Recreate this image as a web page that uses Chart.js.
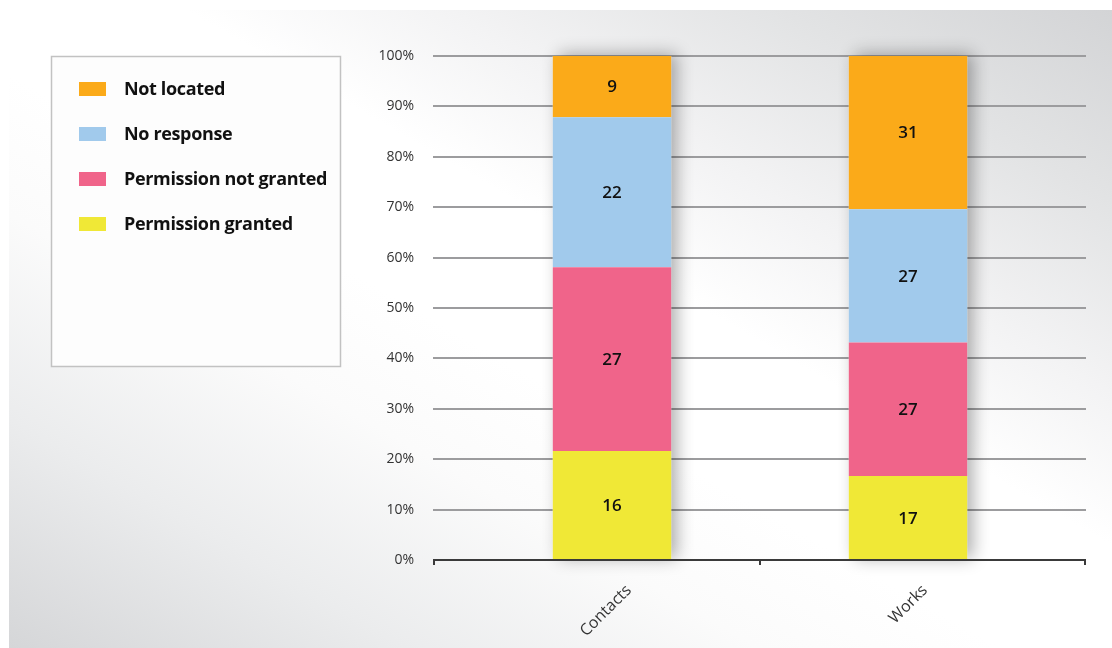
<!DOCTYPE html>
<html>
<head>
<meta charset="utf-8">
<script src="https://cdn.jsdelivr.net/npm/chart.js@4.4.1/dist/chart.umd.min.js"></script>
<style>
  html, body { margin: 0; padding: 0; background: #ffffff; }
  #wrap { position: relative; width: 1112px; height: 648px; overflow: hidden; background: #ffffff; }
  #bg { position: absolute; left: 9px; top: 10px; right: 0; bottom: 0;
        background: linear-gradient(to top right, #d5d6d8 0%, #ebeced 18%, #fbfbfb 34%, #ffffff 45%, #ffffff 58%, #f3f3f4 70%, #e2e3e4 85%, #d3d4d6 100%); }
  canvas { position: absolute; left: 0; top: 0; }
</style>
</head>
<body>
<div id="wrap">
  <div id="bg"></div>
  <canvas id="c" width="1112" height="648"></canvas>
</div>
<script>
// ---- Data (counts) ----
const categories = ['Contacts', 'Works'];
const permissionGranted = [16, 17];
const permissionNotGranted = [27, 27];
const noResponse = [22, 27];
const notLocated = [9, 31];
const seriesNames = ['Permission granted', 'Permission not granted', 'No response', 'Not located'];
const seriesColors = ['#F0E836', '#F0648A', '#A1CAEC', '#FBAA19'];
const yTickValues = [0, 10, 20, 30, 40, 50, 60, 70, 80, 90, 100];

const allSeries = [permissionGranted, permissionNotGranted, noResponse, notLocated];
const totals = categories.map((_, i) => allSeries.reduce((s, a) => s + a[i], 0));
const toPct = arr => arr.map((v, i) => v / totals[i] * 100);

const FONT = "'Open Sans', 'DejaVu Sans', sans-serif";

const datasets = allSeries.map((arr, k) => ({
  label: seriesNames[k],
  data: toPct(arr),
  counts: arr,
  backgroundColor: seriesColors[k],
  borderWidth: 0,
  barPercentage: 0.4,
  categoryPercentage: 1.0
}));

const decorPlugin = {
  id: 'decor',
  beforeDatasetsDraw(chart) {
    const ctx = chart.ctx;
    const ca = chart.chartArea;
    const y = chart.scales.y;
    const gl = ca.left - 31, gr = ca.right + 30;
    ctx.save();
    // grid lines
    ctx.strokeStyle = '#9c9c9e';
    ctx.lineWidth = 2;
    yTickValues.forEach(v => {
      if (v === 0) return;
      const py = Math.round(y.getPixelForValue(v));
      ctx.beginPath();
      ctx.moveTo(gl, py);
      ctx.lineTo(gr, py);
      ctx.stroke();
    });
    // stack shadows
    const first = chart.getDatasetMeta(0), last = chart.getDatasetMeta(chart.data.datasets.length - 1);
    categories.forEach((_, i) => {
      const b = first.data[i], t = last.data[i];
      const w = b.width;
      ctx.save();
      ctx.shadowColor = 'rgba(0,0,0,0.32)';
      ctx.shadowBlur = 16;
      ctx.shadowOffsetX = 6;
      ctx.shadowOffsetY = -2;
      ctx.fillStyle = '#ffffff';
      ctx.fillRect(b.x - w / 2, t.y, w, b.base - t.y);
      ctx.restore();
    });
    ctx.restore();
  },
  afterDatasetsDraw(chart) {
    const ctx = chart.ctx;
    const ca = chart.chartArea;
    const y = chart.scales.y;
    ctx.save();
    // x axis line with tick marks
    const gl = ca.left - 31, gr = ca.right + 30;
    const py = Math.round(y.getPixelForValue(0));
    ctx.strokeStyle = '#3a3a3a';
    ctx.lineWidth = 2;
    ctx.beginPath();
    ctx.moveTo(gl, py);
    ctx.lineTo(gr, py);
    ctx.stroke();
    const mid = (ca.left + ca.right) / 2;
    [gl + 1, mid, gr - 1].forEach(tx => {
      ctx.beginPath();
      ctx.moveTo(tx, py);
      ctx.lineTo(tx, py + 5);
      ctx.stroke();
    });
    // value labels
    ctx.fillStyle = '#111111';
    ctx.font = '600 17px ' + FONT;
    ctx.textAlign = 'center';
    ctx.textBaseline = 'middle';
    chart.data.datasets.forEach((ds, k) => {
      chart.getDatasetMeta(k).data.forEach((el, i) => {
        ctx.fillText(String(ds.counts[i]), el.x, (el.y + el.base) / 2 + 1);
      });
    });
    ctx.restore();
  },
  beforeDraw(chart) {
    // legend box
    const ctx = chart.ctx;
    ctx.save();
    ctx.fillStyle = '#fdfdfd';
    ctx.fillRect(51, 56, 290, 311);
    ctx.strokeStyle = '#c2c2c2';
    ctx.lineWidth = 1.5;
    ctx.strokeRect(51.5, 56.5, 289, 310);
    const items = chart.data.datasets.slice().reverse();
    ctx.font = 'bold 18px ' + FONT;
    try { ctx.letterSpacing = '-0.35px'; } catch (e) {}
    ctx.textAlign = 'left';
    ctx.textBaseline = 'middle';
    items.forEach((ds, j) => {
      const cy = 89 + j * 45;
      ctx.fillStyle = ds.backgroundColor;
      ctx.fillRect(79, cy - 7, 27, 14);
      ctx.fillStyle = '#111111';
      ctx.fillText(ds.label, 124, cy + 1);
    });
    ctx.restore();
  }
};

new Chart(document.getElementById('c'), {
  type: 'bar',
  data: { labels: categories, datasets },
  options: {
    responsive: false,
    animation: false,
    events: [],
    layout: { autoPadding: false, padding: { left: 0, right: 56, top: 56, bottom: 0 } },
    plugins: { legend: { display: false }, tooltip: { enabled: false } },
    scales: {
      x: {
        stacked: true,
        grid: { display: false, drawTicks: false },
        border: { display: false },
        afterFit(scale) {
          scale.height = 88; scale.paddingTop = 0; scale.paddingBottom = 0; scale.paddingLeft = 0; scale.paddingRight = 0;
        },
        ticks: {
          color: '#333333',
          font: { family: FONT, size: 16 },
          maxRotation: 45, minRotation: 45,
          padding: 21,
          labelOffset: 17
        }
      },
      y: {
        stacked: true,
        min: 0, max: 100,
        afterFit(scale) {
          scale.width = 464; scale.paddingTop = 0; scale.paddingBottom = 0; scale.paddingLeft = 0; scale.paddingRight = 0;
        },
        afterBuildTicks(scale) { scale.ticks = yTickValues.map(v => ({ value: v })); },
        grid: { display: false, drawTicks: false },
        border: { display: false },
        ticks: {
          color: '#333333',
          font: { family: FONT, size: 14 },
          padding: 50,
          callback: v => v + '%'
        }
      }
    }
  },
  plugins: [decorPlugin]
});
</script>
</body>
</html>
